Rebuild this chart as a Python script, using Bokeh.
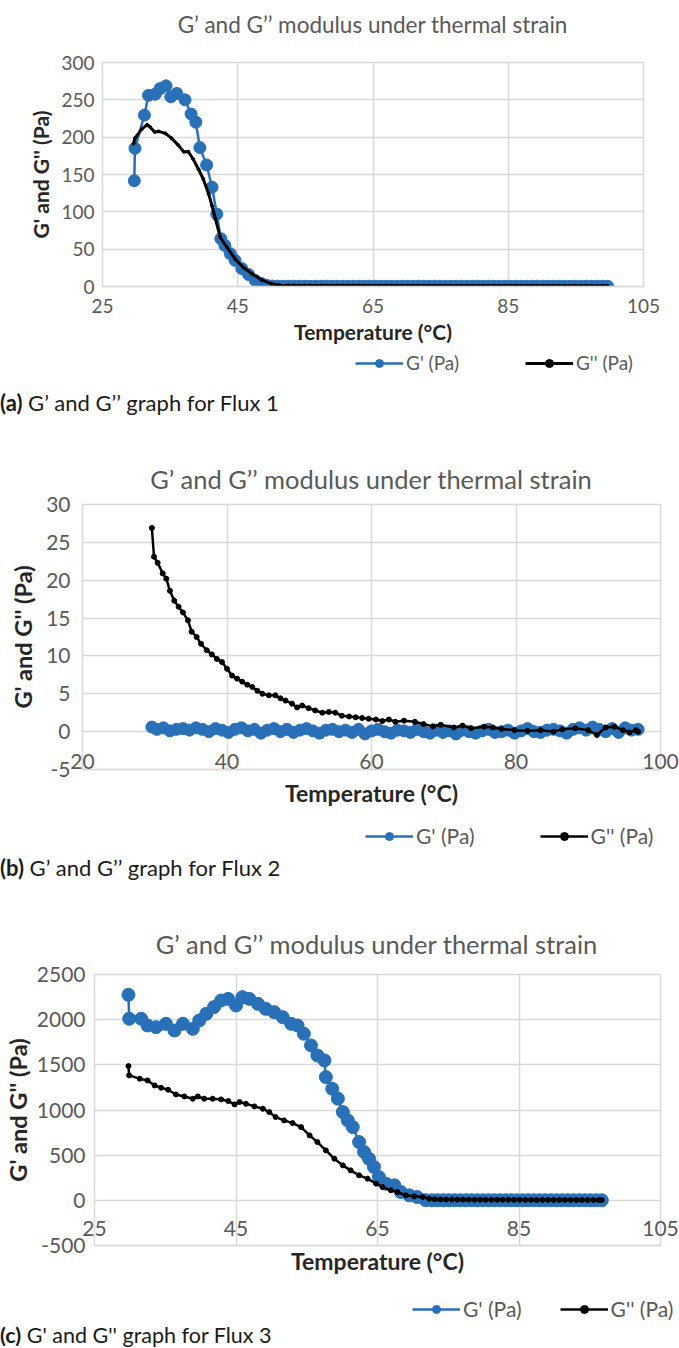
from bokeh.plotting import figure
from bokeh.models import (ColumnDataSource, Range1d, FixedTicker, Legend, LegendItem, Div)
from bokeh.layouts import column, row
from bokeh.embed import file_html
from bokeh.resources import INLINE

FONT = "Lato"
BLUE = "#2870b8"
GRID = "#d9d9d9"
GRAY = "#595959"
DARK = "#262626"
W = 679

TITLE = "G\u2019 and G\u2019\u2019 modulus under thermal strain"
X_LABEL = "Temperature (\u00b0C)"
Y_LABEL = "G' and G'' (Pa)"
LEG_GP = "G' (Pa)"
LEG_GPP = "G'' (Pa)"

# ---------------- Flux 1 ----------------
a_xticks = [25, 45, 65, 85, 105]
a_yticks = [0, 50, 100, 150, 200, 250, 300]
a_gp_t = [29.7, 29.8, 31.2, 31.8, 32.8, 33.5, 34.4, 35.1, 36.0, 37.2,
          38.1, 38.8, 39.4, 40.4, 41.2, 41.9, 42.5, 43.1, 43.9, 44.6,
          45.6, 46.6, 47.6, 48.5, 49.3, 50.1, 50.9, 51.7, 52.5, 53.3,
          54.1, 54.9, 55.7, 56.5, 57.3, 58.1, 58.9, 59.7, 60.5, 61.3,
          62.1, 62.9, 63.7, 64.5, 65.3, 66.1, 66.9, 67.7, 68.5, 69.3,
          70.1, 70.9, 71.7, 72.5, 73.3, 74.1, 74.9, 75.7, 76.5, 77.3,
          78.1, 78.9, 79.7, 80.5, 81.3, 82.1, 82.9, 83.7, 84.5, 85.3,
          86.1, 86.9, 87.7, 88.5, 89.3, 90.1, 90.9, 91.7, 92.5, 93.3,
          94.1, 94.9, 95.7, 96.5, 97.3, 98.1, 98.9, 99.7]
a_gp = [141.7, 185, 229.5, 256, 257.5, 265, 268.7, 254, 258.5, 250,
        231, 220, 186, 162.7, 133, 97, 64, 55, 44, 35,
        24, 16, 8, 4, 1.5, 0.6, 0.4, 0.3, 0.3, 0.4,
        0.3, 0.3, 0.2, 0.3, 0.3, 0.4, 0.3, 0.3, 0.3, 0.2,
        0.3, 0.3, 0.3, 0.4, 0.3, 0.3, 0.3, 0.2, 0.3, 0.3,
        0.3, 0.3, 0.4, 0.3, 0.3, 0.3, 0.3, 0.2, 0.3, 0.3,
        0.3, 0.3, 0.3, 0.4, 0.3, 0.3, 0.3, 0.3, 0.2, 0.3,
        0.3, 0.3, 0.3, 0.3, 0.4, 0.3, 0.3, 0.3, 0.3, 0.3,
        0.2, 0.3, 0.3, 0.3, 0.3, 0.4, 0.3, 0.3]
a_gpp_t = [29.6, 29.8, 30.8, 31.6, 32.0, 32.7, 33.3, 34.3, 35.2, 36.2,
           37.0, 37.7, 38.4, 39.2, 39.9, 40.7, 41.2, 41.7, 42.4, 43.4,
           44.6, 45.8, 47.1, 48.5, 50.0, 51.2, 52.5, 53.3, 54.1, 54.9,
           55.7, 56.5, 57.3, 58.1, 58.9, 59.7, 60.5, 61.3, 62.1, 62.9,
           63.7, 64.5, 65.3, 66.1, 66.9, 67.7, 68.5, 69.3, 70.1, 70.9,
           71.7, 72.5, 73.3, 74.1, 74.9, 75.7, 76.5, 77.3, 78.1, 78.9,
           79.7, 80.5, 81.3, 82.1, 82.9, 83.7, 84.5, 85.3, 86.1, 86.9,
           87.7, 88.5, 89.3, 90.1, 90.9, 91.7, 92.5, 93.3, 94.1, 94.9,
           95.7, 96.5, 97.3, 98.1, 98.9, 99.7]
a_gpp = [191.6, 198.7, 210.8, 216.6, 214, 207, 207.7, 205, 198.7, 189.4,
         180.5, 180.5, 170.7, 157, 144, 124, 108, 90.5, 66, 52.6,
         37, 25.8, 17, 9, 3.6, 1.8, 1.5, 1.4, 1.3, 1.4,
         1.3, 1.2, 1.3, 1.3, 1.2, 1.3, 1.2, 1.2, 1.3, 1.2,
         1.2, 1.2, 1.1, 1.2, 1.2, 1.1, 1.2, 1.1, 1.1, 1.2,
         1.1, 1.1, 1.1, 1.0, 1.1, 1.1, 1.0, 1.1, 1.0, 1.0,
         1.1, 1.0, 1.0, 1.0, 1.0, 0.9, 1.0, 1.0, 0.9, 1.0,
         0.9, 0.9, 1.0, 0.9, 0.9, 0.9, 0.9, 0.8, 0.9, 0.9,
         0.8, 0.9, 0.8, 0.8, 0.9, 0.8]

# ---------------- Flux 2 ----------------
b_xticks = [20, 40, 60, 80, 100]
b_yticks = [-5, 0, 5, 10, 15, 20, 25, 30]
b_gp_t = [29.6, 30.3, 31.2, 32.1, 33.0, 33.9, 34.8, 35.7, 36.6, 37.5,
          38.4, 39.3, 40.2, 41.1, 42.0, 42.9, 43.8, 44.7, 45.6, 46.5,
          47.4, 48.3, 49.2, 50.1, 51.0, 51.9, 52.8, 53.7, 54.6, 55.5,
          56.4, 57.3, 58.2, 59.1, 60.0, 60.9, 61.8, 62.7, 63.6, 64.5,
          65.4, 66.3, 67.2, 68.1, 69.0, 69.9, 70.8, 71.7, 72.6, 73.5,
          74.4, 75.3, 76.2, 77.1, 78.0, 78.9, 79.8, 80.7, 81.6, 82.5,
          83.4, 84.3, 85.2, 86.1, 87.0, 87.9, 88.8, 89.7, 90.6, 91.5,
          92.4, 93.3, 94.2, 95.1, 96.0, 96.9]
b_gp = [0.6, 0.3, 0.5, 0.1, 0.3, 0.4, 0.2, 0.5, 0.3, 0.0,
        0.4, 0.2, -0.1, 0.3, 0.5, 0.1, 0.3, -0.2, 0.2, 0.4,
        0.0, 0.3, -0.1, 0.2, 0.4, 0.1, -0.2, 0.2, 0.3, 0.0,
        0.2, -0.1, 0.3, -0.3, 0.1, 0.3, 0.0, -0.2, 0.2, 0.1,
        -0.1, 0.3, 0.0, -0.2, 0.2, -0.1, 0.1, -0.3, 0.2, 0.0,
        -0.2, 0.1, 0.3, -0.1, 0.0, 0.2, -0.2, 0.1, 0.4, 0.0,
        -0.1, 0.2, 0.3, 0.1, -0.2, 0.3, 0.5, 0.2, 0.6, 0.3,
        0.0, 0.4, -0.1, 0.5, 0.2, 0.3]
b_gpp_t = [29.6, 29.9, 30.4, 31.1, 31.6, 32.1, 32.7, 33.3, 33.9, 34.6,
           35.1, 35.8, 36.4, 37.2, 37.9, 38.6, 39.3, 40.0, 40.7, 41.4,
           42.1, 42.8, 43.5, 44.2, 44.9, 45.8, 46.7, 47.4, 48.1, 49.0,
           49.7, 50.4, 51.3, 52.2, 53.2, 54.1, 55.0, 55.9, 56.9, 57.8,
           58.7, 59.6, 60.6, 61.5, 62.4, 63.3, 64.5, 66.0, 67.2, 68.5,
           69.6, 71.4, 72.6, 73.8, 75.6, 76.8, 78.0, 79.8, 81.6, 83.4,
           85.2, 86.4, 88.2, 90.0, 91.2, 92.4, 93.6, 94.8, 95.7, 96.6,
           96.9]
b_gpp = [26.9, 23.1, 22.3, 20.9, 20.2, 18.6, 17.3, 16.5, 15.75, 14.7,
         13.2, 12.5, 11.6, 10.75, 10.2, 9.6, 9.2, 8.3, 7.4, 7.0,
         6.6, 6.2, 5.9, 5.4, 5.0, 4.8, 4.8, 4.4, 4.1, 3.7,
         3.2, 3.45, 3.1, 2.8, 2.5, 2.6, 2.5, 2.1, 2.0, 1.9,
         1.8, 1.7, 1.6, 1.4, 1.6, 1.3, 1.45, 1.3, 1.0, 0.7,
         0.9, 0.55, 0.8, 0.45, 0.65, 0.55, 0.35, 0.2, 0.1, 0.2,
         0.0, 0.3, 0.45, 0.2, -0.45, 0.55, 0.65, 0.2, -0.1, 0.2,
         0.0]

# ---------------- Flux 3 ----------------
c_xticks = [25, 45, 65, 85, 105]
c_yticks = [-500, 0, 500, 1000, 1500, 2000, 2500]
c_gp_t = [29.8, 29.9, 31.6, 32.5, 33.7, 35.1, 36.3, 37.5, 38.9, 39.8,
          40.8, 41.9, 42.9, 43.9, 45.0, 45.9, 46.9, 48.1, 49.2, 50.4,
          51.6, 52.8, 53.7, 54.6, 55.6, 56.5, 57.5, 57.7, 58.6, 59.4,
          60.1, 60.8, 61.5, 62.4, 63.1, 63.8, 64.5, 65.2, 66.2, 67.4,
          68.3, 69.5, 70.6, 71.8, 72.7, 73.5, 74.3, 75.1, 75.9, 76.7,
          77.5, 78.3, 79.1, 79.9, 80.7, 81.5, 82.3, 83.1, 83.9, 84.7,
          85.5, 86.3, 87.1, 87.9, 88.7, 89.5, 90.3, 91.1, 91.9, 92.7,
          93.5, 94.3, 95.1, 95.9, 96.7]
c_gp = [2275, 2010, 2010, 1936, 1917, 1954, 1880, 1954, 1899, 1991,
        2065, 2139, 2212, 2230, 2157, 2249, 2230, 2175, 2120, 2083,
        2028, 1954, 1936, 1844, 1715, 1604, 1549, 1364, 1235, 1125,
        977, 885, 811, 645, 535, 461, 369, 258, 184, 166,
        92, 55, 37, 2, 1, 1, 1, 1, 1, 1,
        1, 1, 1, 1, 1, 1, 1, 1, 1, 1,
        1, 1, 1, 1, 1, 1, 1, 1, 1, 1,
        1, 1, 1, 1, 1]
c_gpp_t = [29.8, 29.9, 31.4, 32.5, 33.5, 34.4, 35.4, 36.5, 37.7, 38.9,
           39.6, 40.5, 41.7, 42.9, 43.9, 44.8, 45.5, 46.4, 47.6, 48.8,
           49.7, 50.6, 51.8, 53.0, 54.2, 55.4, 56.5, 57.7, 58.9, 60.1,
           61.2, 62.4, 63.6, 64.8, 65.7, 66.9, 67.8, 69.0, 70.2, 71.4,
           72.3, 73.1, 73.9, 74.7, 75.5, 76.3, 77.1, 77.9, 78.7, 79.5,
           80.3, 81.1, 81.9, 82.7, 83.5, 84.3, 85.1, 85.9, 86.7, 87.5,
           88.3, 89.1, 89.9, 90.7, 91.5, 92.3, 93.1, 93.9, 94.7, 95.5,
           96.3, 96.7]
c_gpp = [1486, 1383, 1346, 1327, 1272, 1246, 1224, 1172, 1150, 1125,
         1150, 1125, 1125, 1117, 1099, 1062, 1088, 1069, 1040, 1014,
         977, 922, 885, 855, 811, 719, 645, 553, 461, 387,
         332, 277, 240, 184, 147, 111, 92, 55, 44, 37,
         18, 12, 10, 9, 9, 8, 8, 8, 7, 7,
         7, 7, 6, 6, 6, 6, 6, 5, 5, 5,
         5, 5, 5, 5, 4, 4, 4, 4, 4, 4,
         4, 4]


def draw_series(p, cfg):
    src1 = ColumnDataSource(dict(x=cfg["gp_t"], y=cfg["gp"]))
    src2 = ColumnDataSource(dict(x=cfg["gpp_t"], y=cfg["gpp"]))
    l1 = p.line("x", "y", source=src1, line_color=BLUE, line_width=2.5)
    s1 = p.scatter("x", "y", source=src1, size=cfg["gp_size"], fill_color=BLUE,
                   line_color=BLUE, marker="circle")
    l2 = p.line("x", "y", source=src2, line_color="black", line_width=cfg["gpp_lw"])
    s2 = p.scatter("x", "y", source=src2, size=cfg["gpp_size"], fill_color="black",
                   line_color="black", marker="circle")
    return l1, s1, l2, s2


def make_title(cfg):
    fw = W - cfg["left"] - cfg["right"]
    th = cfg["title_h"]
    return Div(text=TITLE, width=fw, height=th, margin=(cfg["title_mtop"], 0, 0, cfg["left"]),
               styles={"font-family": FONT, "font-size": cfg["title_size"], "color": GRAY,
                       "text-align": "center", "line-height": "%dpx" % th,
                       "white-space": "nowrap"})


def make_chart(cfg):
    p = figure(width=W, height=cfg["height"], output_backend="svg", toolbar_location=None,
               x_range=Range1d(cfg["xticks"][0], cfg["xticks"][-1]),
               y_range=Range1d(cfg["yticks"][0], cfg["yticks"][-1]),
               min_border_left=cfg["left"], min_border_right=cfg["right"],
               min_border_top=cfg["top"], min_border_bottom=cfg["bottom"],
               title=None)
    p.outline_line_color = GRID
    p.outline_line_width = 1.5
    p.background_fill_color = "white"
    p.border_fill_color = "white"

    for g, t in ((p.xgrid, cfg["xticks"]), (p.ygrid, cfg["yticks"])):
        g.ticker = FixedTicker(ticks=t)
        g.grid_line_color = GRID
        g.grid_line_width = 1.5

    xa = p.xaxis[0]
    xa.ticker = FixedTicker(ticks=cfg["xticks"])
    xa.axis_line_color = GRID
    xa.axis_line_width = 1.5
    xa.major_tick_line_color = None
    xa.minor_tick_line_color = None
    xa.major_tick_out = 0
    xa.major_tick_in = 0
    xa.major_label_text_font = FONT
    xa.major_label_text_color = GRAY
    xa.major_label_text_font_size = cfg["tick_size"]
    xa.major_label_standoff = cfg["xtick_standoff"]
    xa.axis_label = X_LABEL
    xa.axis_label_text_font = FONT
    xa.axis_label_text_font_style = "bold"
    xa.axis_label_text_font_size = cfg["xlabel_size"]
    xa.axis_label_text_color = DARK
    xa.axis_label_standoff = cfg["xlabel_standoff"]

    ya = p.yaxis[0]
    ya.ticker = FixedTicker(ticks=cfg["yticks"])
    ya.axis_line_color = None
    ya.major_tick_line_color = None
    ya.minor_tick_line_color = None
    ya.major_tick_out = 0
    ya.major_tick_in = 0
    ya.major_label_standoff = cfg["ytick_standoff"]
    ya.major_label_text_font = FONT
    ya.major_label_text_font_size = cfg["tick_size"]
    ya.major_label_text_color = GRAY
    ya.major_label_overrides = {t: str(t) for t in cfg["yticks"] if t < 0}
    ya.axis_label = Y_LABEL
    ya.axis_label_text_font = FONT
    ya.axis_label_text_font_style = "bold"
    ya.axis_label_text_font_size = cfg["ylabel_size"]
    ya.axis_label_text_color = DARK
    ya.axis_label_standoff = cfg["ylabel_standoff"]

    draw_series(p, cfg)
    return p


def make_legend(cfg):
    # strip holding the legend under each chart; its ranges keep the series out of view
    h = cfg["legend_h"]
    q = figure(width=W, height=h, output_backend="svg", toolbar_location=None,
               x_axis_location=None, y_axis_location=None, title=None,
               min_border=0, x_range=Range1d(-20, -10), y_range=Range1d(-20, -10))
    q.grid.grid_line_color = None
    q.outline_line_color = None
    q.background_fill_color = "white"
    q.border_fill_color = "white"
    l1, s1, l2, s2 = draw_series(q, cfg)
    legend = Legend(items=[LegendItem(label=LEG_GP, renderers=[l1, s1]),
                           LegendItem(label=LEG_GPP, renderers=[l2, s2])],
                    orientation="horizontal",
                    location=(cfg["legend_x"], h - 20 - cfg["legend_top"]),
                    glyph_width=48, glyph_height=20, label_standoff=3,
                    spacing=cfg["legend_spacing"], padding=0, margin=0,
                    border_line_color=None, background_fill_alpha=0,
                    label_text_font=FONT, label_text_font_size=cfg["legend_size"],
                    label_text_color=GRAY, label_height=20)
    q.add_layout(legend)
    return q


def caption(tag, text, mtop, mbottom, height, size):
    return Div(text="<b>%s</b> %s" % (tag, text), width=W, height=height,
               margin=(mtop, 0, mbottom, 0),
               styles={"font-family": FONT, "font-size": size,
                       "line-height": "%dpx" % height, "color": "#1a1a1a",
                       "white-space": "nowrap"})


cfg_a = dict(height=312, left=102, right=36, top=25, bottom=63,
             title_mtop=13, title_h=24,
             xticks=a_xticks, yticks=a_yticks, title_size="22.5px",
             tick_size="19px", xtick_standoff=12, ytick_standoff=8,
             xlabel_size="21px", xlabel_standoff=3,
             ylabel_size="21px", ylabel_standoff=5,
             gp_t=a_gp_t, gp=a_gp, gpp_t=a_gpp_t, gpp=a_gpp,
             gp_size=12, gpp_size=3, gpp_lw=3,
             legend_h=30, legend_top=5, legend_x=355, legend_spacing=66,
             legend_size="19px")

cfg_b = dict(height=332, left=82, right=19, top=13, bottom=54,
             title_mtop=0, title_h=24,
             xticks=b_xticks, yticks=b_yticks, title_size="25.5px",
             tick_size="21px", xtick_standoff=-16, ytick_standoff=12,
             xlabel_size="23px", xlabel_standoff=7,
             ylabel_size="23.5px", ylabel_standoff=6,
             gp_t=b_gp_t, gp=b_gp, gpp_t=b_gpp_t, gpp=b_gpp,
             gp_size=12, gpp_size=5, gpp_lw=2.5,
             legend_h=30, legend_top=5, legend_x=365, legend_spacing=65,
             legend_size="21px")

cfg_c = dict(height=341, left=93, right=19, top=18, bottom=52,
             title_mtop=0, title_h=24,
             xticks=c_xticks, yticks=c_yticks, title_size="25.5px",
             tick_size="21px", xtick_standoff=-25, ytick_standoff=9,
             xlabel_size="23px", xlabel_standoff=8,
             ylabel_size="23.5px", ylabel_standoff=2,
             gp_t=c_gp_t, gp=c_gp, gpp_t=c_gpp_t, gpp=c_gpp,
             gp_size=13, gpp_size=5, gpp_lw=2.5,
             legend_h=27, legend_top=4, legend_x=412, legend_spacing=38,
             legend_size="21px")

ta, fa, la = make_title(cfg_a), make_chart(cfg_a), make_legend(cfg_a)
tb, fb, lb = make_title(cfg_b), make_chart(cfg_b), make_legend(cfg_b)
tc, fc, lc = make_title(cfg_c), make_chart(cfg_c), make_legend(cfg_c)

da = caption("(a)", "G\u2019 and G\u2019\u2019 graph for Flux 1", 13, 53, 22, "22px")
db = caption("(b)", "G\u2019 and G\u2019\u2019 graph for Flux 2", 4, 53, 22, "22px")
dc = caption("(c)", "G' and G'' graph for Flux 3", 0, 0, 22, "21.5px")

layout = column(ta, row(fa), row(la), da,
                tb, row(fb), row(lb), db,
                tc, row(fc), row(lc), dc, spacing=0)
open("out.html", "w").write(file_html(layout, INLINE))
